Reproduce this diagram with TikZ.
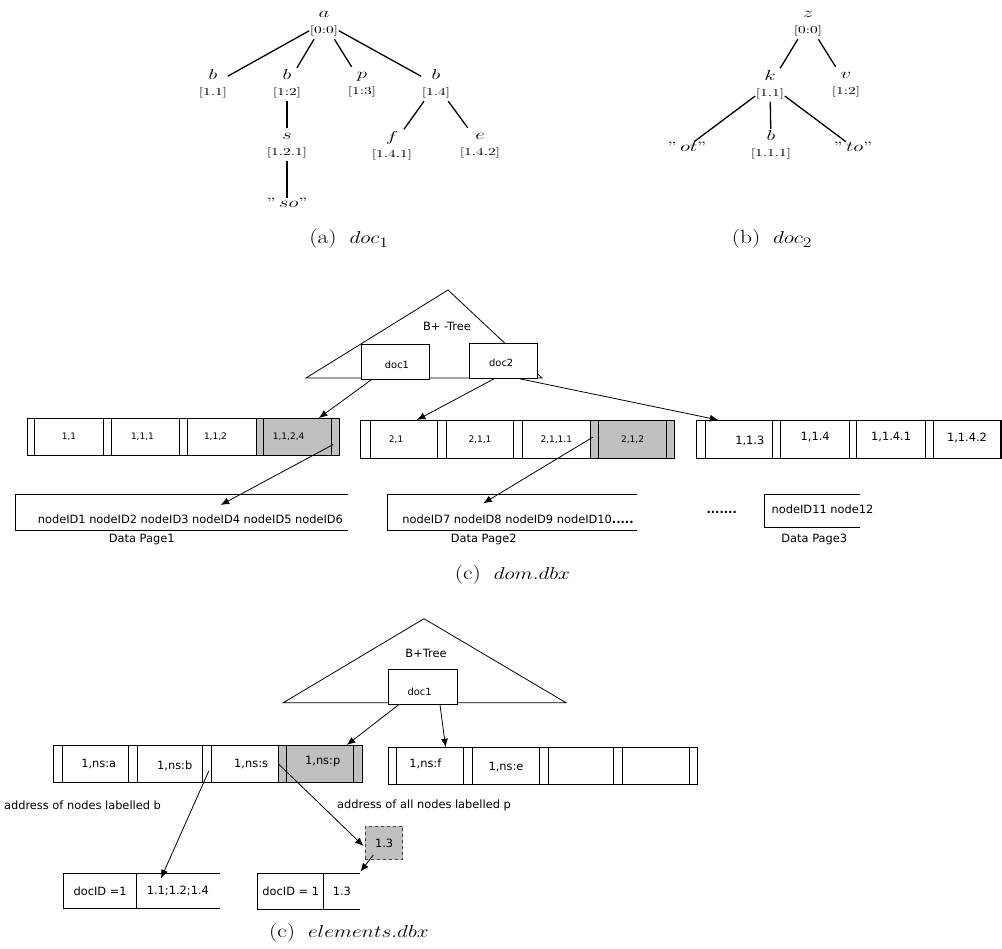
\documentclass[tikz,border=0pt]{standalone}
\usepackage{fontspec}
\newfontfamily\dv{DejaVu Sans}
\usetikzlibrary{arrows.meta,calc}
\definecolor{cellgray}{RGB}{192,192,192}
\newcommand\tv[2]{\scalebox{1.45}[1]{\fontsize{10.6}{16}\selectfont\begin{tabular}{@{}c@{}}\fontsize{13.5}{16}\selectfont$#1$\\\relax #2\end{tabular}}}
\newcommand\leafq[1]{\scalebox{1.45}[1]{\fontsize{13.5}{15}\selectfont''\,$#1$''}}
\newcommand\capt[2]{\scalebox{1.23}[1]{\fontsize{19}{21}\selectfont(#1)\hspace{0.55em}$#2$}}
\begin{document}
\begin{tikzpicture}[x=1pt,y=-1pt,
  tvn/.style={inner sep=0.5pt},
  tedge/.style={line width=1.3pt, black},
  t9/.style={font=\dv\fontsize{9}{11}\selectfont},
  t10/.style={font=\dv\fontsize{9.9}{12}\selectfont},
  t11/.style={font=\dv\fontsize{11.4}{13}\selectfont},
  t11b/.style={font=\dv\bfseries\fontsize{11.4}{13}\selectfont},
  cellw/.style={draw=black, line width=0.9pt, fill=white, anchor=north west, inner sep=0pt},
  cellg/.style={cellw, fill=cellgray},
  hA/.style={minimum height=37pt},
  hB/.style={minimum height=38pt},
  hC/.style={minimum height=37.3pt},
  openbox/.style={anchor=north west, inner sep=0pt},
  pline/.style={draw=black, line width=0.9pt},
  tri/.style={draw=black, line width=0.8pt},
  docbox/.style={cellw, t10},
  arr/.style={line width=0.8pt, -{Latex[length=8.5pt,width=7pt]}},
  dbox/.style={draw=black!75, dashed, fill=cellgray, line width=0.9pt, anchor=north west, inner sep=0pt, t11},
  capt/.style={inner sep=0pt}
]
\fill[white] (0,0) rectangle (1002,949);
\useasboundingbox (0,0) rectangle (1002,949);

% ---------------- tree (a)
\node[tvn] (ta) at (324,22.5) {\tv{a}{[0:0]}};
\node[tvn] (tb1) at (213,84.5) {\tv{b}{[1.1]}};
\node[tvn] (tb2) at (287,84.5) {\tv{b}{[1:2]}};
\node[tvn] (tp) at (362,83.5) {\tv{p}{[1:3]}};
\node[tvn] (tb4) at (436,84.5) {\tv{b}{[1.4]}};
\node[tvn] (ts) at (287,144.5) {\tv{s}{[1.2.1]}};
\node[tvn] (tso) at (287,203) {\leafq{so}};
\node[tvn] (tf) at (392,146) {\tv{f}{[1.4.1]}};
\node[tvn] (te) at (480,144.5) {\tv{e}{[1.4.2]}};
\draw[tedge] (ta) -- (tb1);
\draw[tedge] (ta) -- (tb2);
\draw[tedge] (ta) -- (tp);
\draw[tedge] (ta) -- (tb4);
\draw[tedge] (tb2) -- (ts);
\draw[tedge] (ts) -- (tso);
\draw[tedge] (tb4) -- (tf);
\draw[tedge] (tb4) -- (te);
\node[capt] (capa) at (349,239) {\capt{a}{doc_1}};

% ---------------- tree (b)
\node[tvn] (tz) at (808,22.5) {\tv{z}{[0:0]}};
\node[tvn] (tk) at (770,85) {\tv{k}{[1.1]}};
\node[tvn] (tv) at (846,83.5) {\tv{v}{[1:2]}};
\node[tvn] (tot) at (687,147) {\leafq{ot}};
\node[tvn] (tbb) at (771,145.5) {\tv{b}{[1.1.1]}};
\node[tvn] (tto) at (853,147) {\leafq{to}};
\draw[tedge] (tz) -- (tk);
\draw[tedge] (tz) -- (tv);
\draw[tedge] (tk) -- (tot);
\draw[tedge] (tk) -- (tbb);
\draw[tedge] (tk) -- (tto);
\node[capt] (capb) at (772,239) {\capt{b}{doc_2}};

% ---------------- dom.dbx
\draw[tri] (306,378) -- (448,290) -- (542,378) -- cycle;
\node[t11] (btree1) at (447,326) {B+ -Tree};
\node[docbox, minimum width=68pt, minimum height=35pt, label={[t10,xshift=1.5pt,yshift=-2.5pt]center:doc1}] (doc1) at (361,344) {};
\node[docbox, minimum width=68.5pt, minimum height=35pt, label={[t10,xshift=-2pt,yshift=-2pt]center:doc2}] (doc2) at (468.5,343) {};

% row 1
\node[cellw, hA, minimum width=7.6pt] (s11) at (26.7,418) {};
\node[cellw, hA, t9, minimum width=68.4pt] (c11) at (34.3,418) {1,1};
\node[cellw, hA, minimum width=8.3pt] (s12) at (102.7,418) {};
\node[cellw, hA, minimum width=68pt, label={[t9,xshift=-3pt]center:{1,1,1}}] (c12) at (111,418) {};
\node[cellw, hA, minimum width=8.3pt] (s13) at (179,418) {};
\node[cellw, hA, minimum width=68.4pt, label={[t9,xshift=-6.5pt]center:{1,1,2}}] (c13) at (187.3,418) {};
\node[cellg, hA, minimum width=7.6pt] (s14) at (255.7,418) {};
\node[cellg, hA, minimum width=67.7pt, label={[t9,xshift=-9pt]center:{1,1,2,4}}] (c14) at (263.3,418) {};
\node[cellg, hA, minimum width=8.3pt] (s15) at (331,418) {};

% row 2
\node[cellw, hB, minimum width=9.1pt] (s21) at (360.4,420) {};
\node[cellw, hB, minimum width=67.8pt, label={[t9,xshift=-7.7pt]center:{2,1}}] (c21) at (369.5,420) {};
\node[cellw, hB, minimum width=8.3pt] (s22) at (437.3,420) {};
\node[cellw, hB, t9, minimum width=67.8pt] (c22) at (445.6,420) {2,1,1};
\node[cellw, hB, minimum width=8.3pt] (s23) at (513.4,420) {};
\node[cellw, hB, t9, minimum width=68.3pt] (c23) at (521.7,420) {2,1,1.1};
\node[cellg, hB, minimum width=8.2pt] (s24) at (590,420) {};
\node[cellg, hB, t9, minimum width=67.8pt] (c24) at (598.2,420) {2,1,2};
\node[cellg, hB, minimum width=8.3pt] (s25) at (666,420) {};

% row 3
\node[cellw, hB, minimum width=8.3pt] (s31) at (696.4,420) {};
\node[cellw, hB, minimum width=67.3pt, label={[t11,xshift=11pt,yshift=-1.5pt]center:{1,1.3}}] (c31) at (704.7,420) {};
\node[cellw, hB, minimum width=8.4pt] (s32) at (772,420) {};
\node[cellw, hB, minimum width=68.6pt, label={[t11,yshift=2pt]center:{1,1.4}}] (c32) at (780.4,420) {};
\node[cellw, hB, minimum width=7.4pt] (s33) at (849,420) {};
\node[cellw, hB, minimum width=68.6pt, label={[t11,yshift=2pt]center:{1,1.4.1}}] (c33) at (856.4,420) {};
\node[cellw, hB, minimum width=8pt] (s34) at (925,420) {};
\node[cellw, hB, minimum width=67pt, label={[t11,yshift=2pt]center:{1,1.4.2}}] (c34) at (933,420) {};
\node[cellw, hB, minimum width=1.4pt] (s35) at (1000,420) {};

% data pages
\node[openbox, minimum width=332.3pt, minimum height=35.7pt] (p1) at (15.7,494.3) {};
\draw[pline] (p1.north east) -- (p1.north west) -- (p1.south west) -- (p1.south east);
\node[t11] (p1t) at (190.4,519.3) {nodeID1 nodeID2 nodeID3 nodeID4 nodeID5 nodeID6};
\node[t11] (p1l) at (141.7,539.3) {Data Page1};

\node[openbox, minimum width=249.7pt, minimum height=35.7pt] (p2) at (387.3,494.3) {};
\draw[pline] (p2.north east) -- (p2.north west) -- (p2.south west) -- (p2.south east);
\node[t11] (p2t) at (518,519.3) {nodeID7 nodeID8 nodeID9 nodeID10{\bfseries.....}};
\node[t11] (p2l) at (483.7,539.3) {Data Page2};

\node[t11b] (dots) at (721.7,512.7) {.......};

\node[openbox, minimum width=95.7pt, minimum height=33pt] (p3) at (764.3,494.3) {};
\draw[pline] (p3.north east) -- (p3.north west) -- (p3.south west) -- (p3.south east);
\node[t11] (p3t) at (822.5,509.3) {nodeID11 node12};
\node[t11] (p3l) at (814.3,539.3) {Data Page3};

% arrows dom
\draw[arr] ($(doc1.south west)!0.147!(doc1.south east)$) -- ($(c14.north west)!0.81!(c14.north east)$);
\draw[arr] ($(doc2.south west)!0.365!(doc2.south east)$) -- ($(c21.north west)!0.69!(c21.north east)$);
\draw[arr] ($(doc2.south west)!0.746!(doc2.south east)$) -- ($(c31.north west)!0.2!(c31.north east)$);
\draw[arr] ($(s15.west)+(2.3,7.5)$) -- ($(p1.north west)+(205,10.7)$);
\draw[arr] ($(s24.center)+(-1.7,-2.3)$) -- ($(p2.north west)+(96,9)$);

\node[capt] (capc1) at (512.5,575) {\capt{c}{dom.dbx}};

% ---------------- elements.dbx
\draw[tri] (283.3,702.7) -- (424,618.7) -- (566,702.7) -- cycle;
\node[t11] (btree2) at (426,653.3) {B+Tree};
\node[docbox, minimum width=69pt, minimum height=34.7pt, label={[t10,xshift=-3pt,yshift=-5pt]center:doc1}] (edoc) at (387.7,669.3) {};

% row E1
\node[cellw, hC, minimum width=8.4pt] (se1) at (53.3,745) {};
\node[cellw, hC, minimum width=66.6pt, label={[t11,xshift=3.3pt]center:{1,ns:a}}] (ce1) at (61.7,745) {};
\node[cellw, hC, minimum width=8.4pt] (se2) at (128.3,745) {};
\node[cellw, hC, minimum width=65.6pt, label={[t11,xshift=4.8pt,yshift=-1.5pt]center:{1,ns:b}}] (ce2) at (136.7,745) {};
\node[cellw, hC, minimum width=8.4pt] (se3) at (202.3,745) {};
\node[cellw, hC, minimum width=67pt, label={[t11,xshift=6.5pt,yshift=0.5pt]center:{1,ns:s}}] (ce3) at (210.7,745) {};
\node[cellg, hC, minimum width=8.3pt] (se4) at (277.7,745) {};
\node[cellg, hC, minimum width=67.3pt, label={[t11,xshift=2.6pt,yshift=3pt]center:{1,ns:p}}] (ce4) at (286,745) {};
\node[cellg, hC, minimum width=8.4pt] (se5) at (353.3,745) {};

% row E2
\node[cellw, hA, minimum width=8.3pt] (sf1) at (387.7,747.3) {};
\node[cellw, hA, minimum width=67.3pt, label={[t11,xshift=-4.7pt,yshift=2pt]center:{1,ns:f}}] (cf1) at (396,747.3) {};
\node[cellw, hA, minimum width=8.4pt] (sf2) at (463.3,747.3) {};
\node[cellw, hA, minimum width=67.6pt, label={[t11,yshift=-1pt]center:{1,ns:e}}] (cf2) at (471.7,747.3) {};
\node[cellw, hA, minimum width=8.4pt] (sf3) at (539.3,747.3) {};
\node[cellw, hA, minimum width=65.6pt] (cf3) at (547.7,747.3) {};
\node[cellw, hA, minimum width=8.4pt] (sf4) at (613.3,747.3) {};
\node[cellw, hA, minimum width=67.6pt] (cf4) at (621.7,747.3) {};
\node[cellw, hA, minimum width=8pt] (sf5) at (689.3,747.3) {};

\node[t11] (lb) at (82.5,805.7) {address of nodes labelled b};
\node[t11] (lp) at (424,805) {address of all nodes labelled p};

\node[dbox, minimum width=37.3pt, minimum height=33.6pt] (d13) at (365,825.7) {1.3};

\node[cellw, t11, minimum width=72.7pt, minimum height=34.4pt] (bb1) at (63.3,873.3) {docID =1};
\node[openbox, t11, minimum width=83.3pt, minimum height=34.4pt] (bb2) at (136,873.3) {1.1;1.2;1.4};
\draw[pline] (bb2.north east) -- (bb2.north west) -- (bb2.south west) -- (bb2.south east);
\node[cellw, t11, minimum width=66pt, minimum height=35.7pt] (bc1) at (257.3,873.3) {docID = 1};
\node[openbox, t11, minimum width=36.7pt, minimum height=35.7pt] (bc2) at (323.3,873.3) {1.3};
\draw[pline] (bc2.north east) -- (bc2.north west) -- (bc2.south west) -- (bc2.south east);

% arrows elements
\draw[arr] ($(edoc.south west)!0.154!(edoc.south east)$) -- ($(ce4.north west)!0.89!(ce4.north east)$);
\draw[arr] ($(edoc.south west)!0.748!(edoc.south east)$) -- ($(cf1.north west)!0.728!(cf1.north east)$);
\draw[arr] ($(se3.center)+(1.8,7)$) -- ($(bb2.north west)+(25,5)$);
\draw[arr] (ce3.east) -- ($(d13.north west)!0.59!(d13.south west)+(-1.5,0)$);
\draw[arr] ($(d13.south west)+(8.3,-5.3)$) -- ($(bc2.north east)+(0,-1.6)$);

\node[capt] (capc2) at (349,933) {\capt{c}{elements.dbx}};
\end{tikzpicture}
\end{document}
